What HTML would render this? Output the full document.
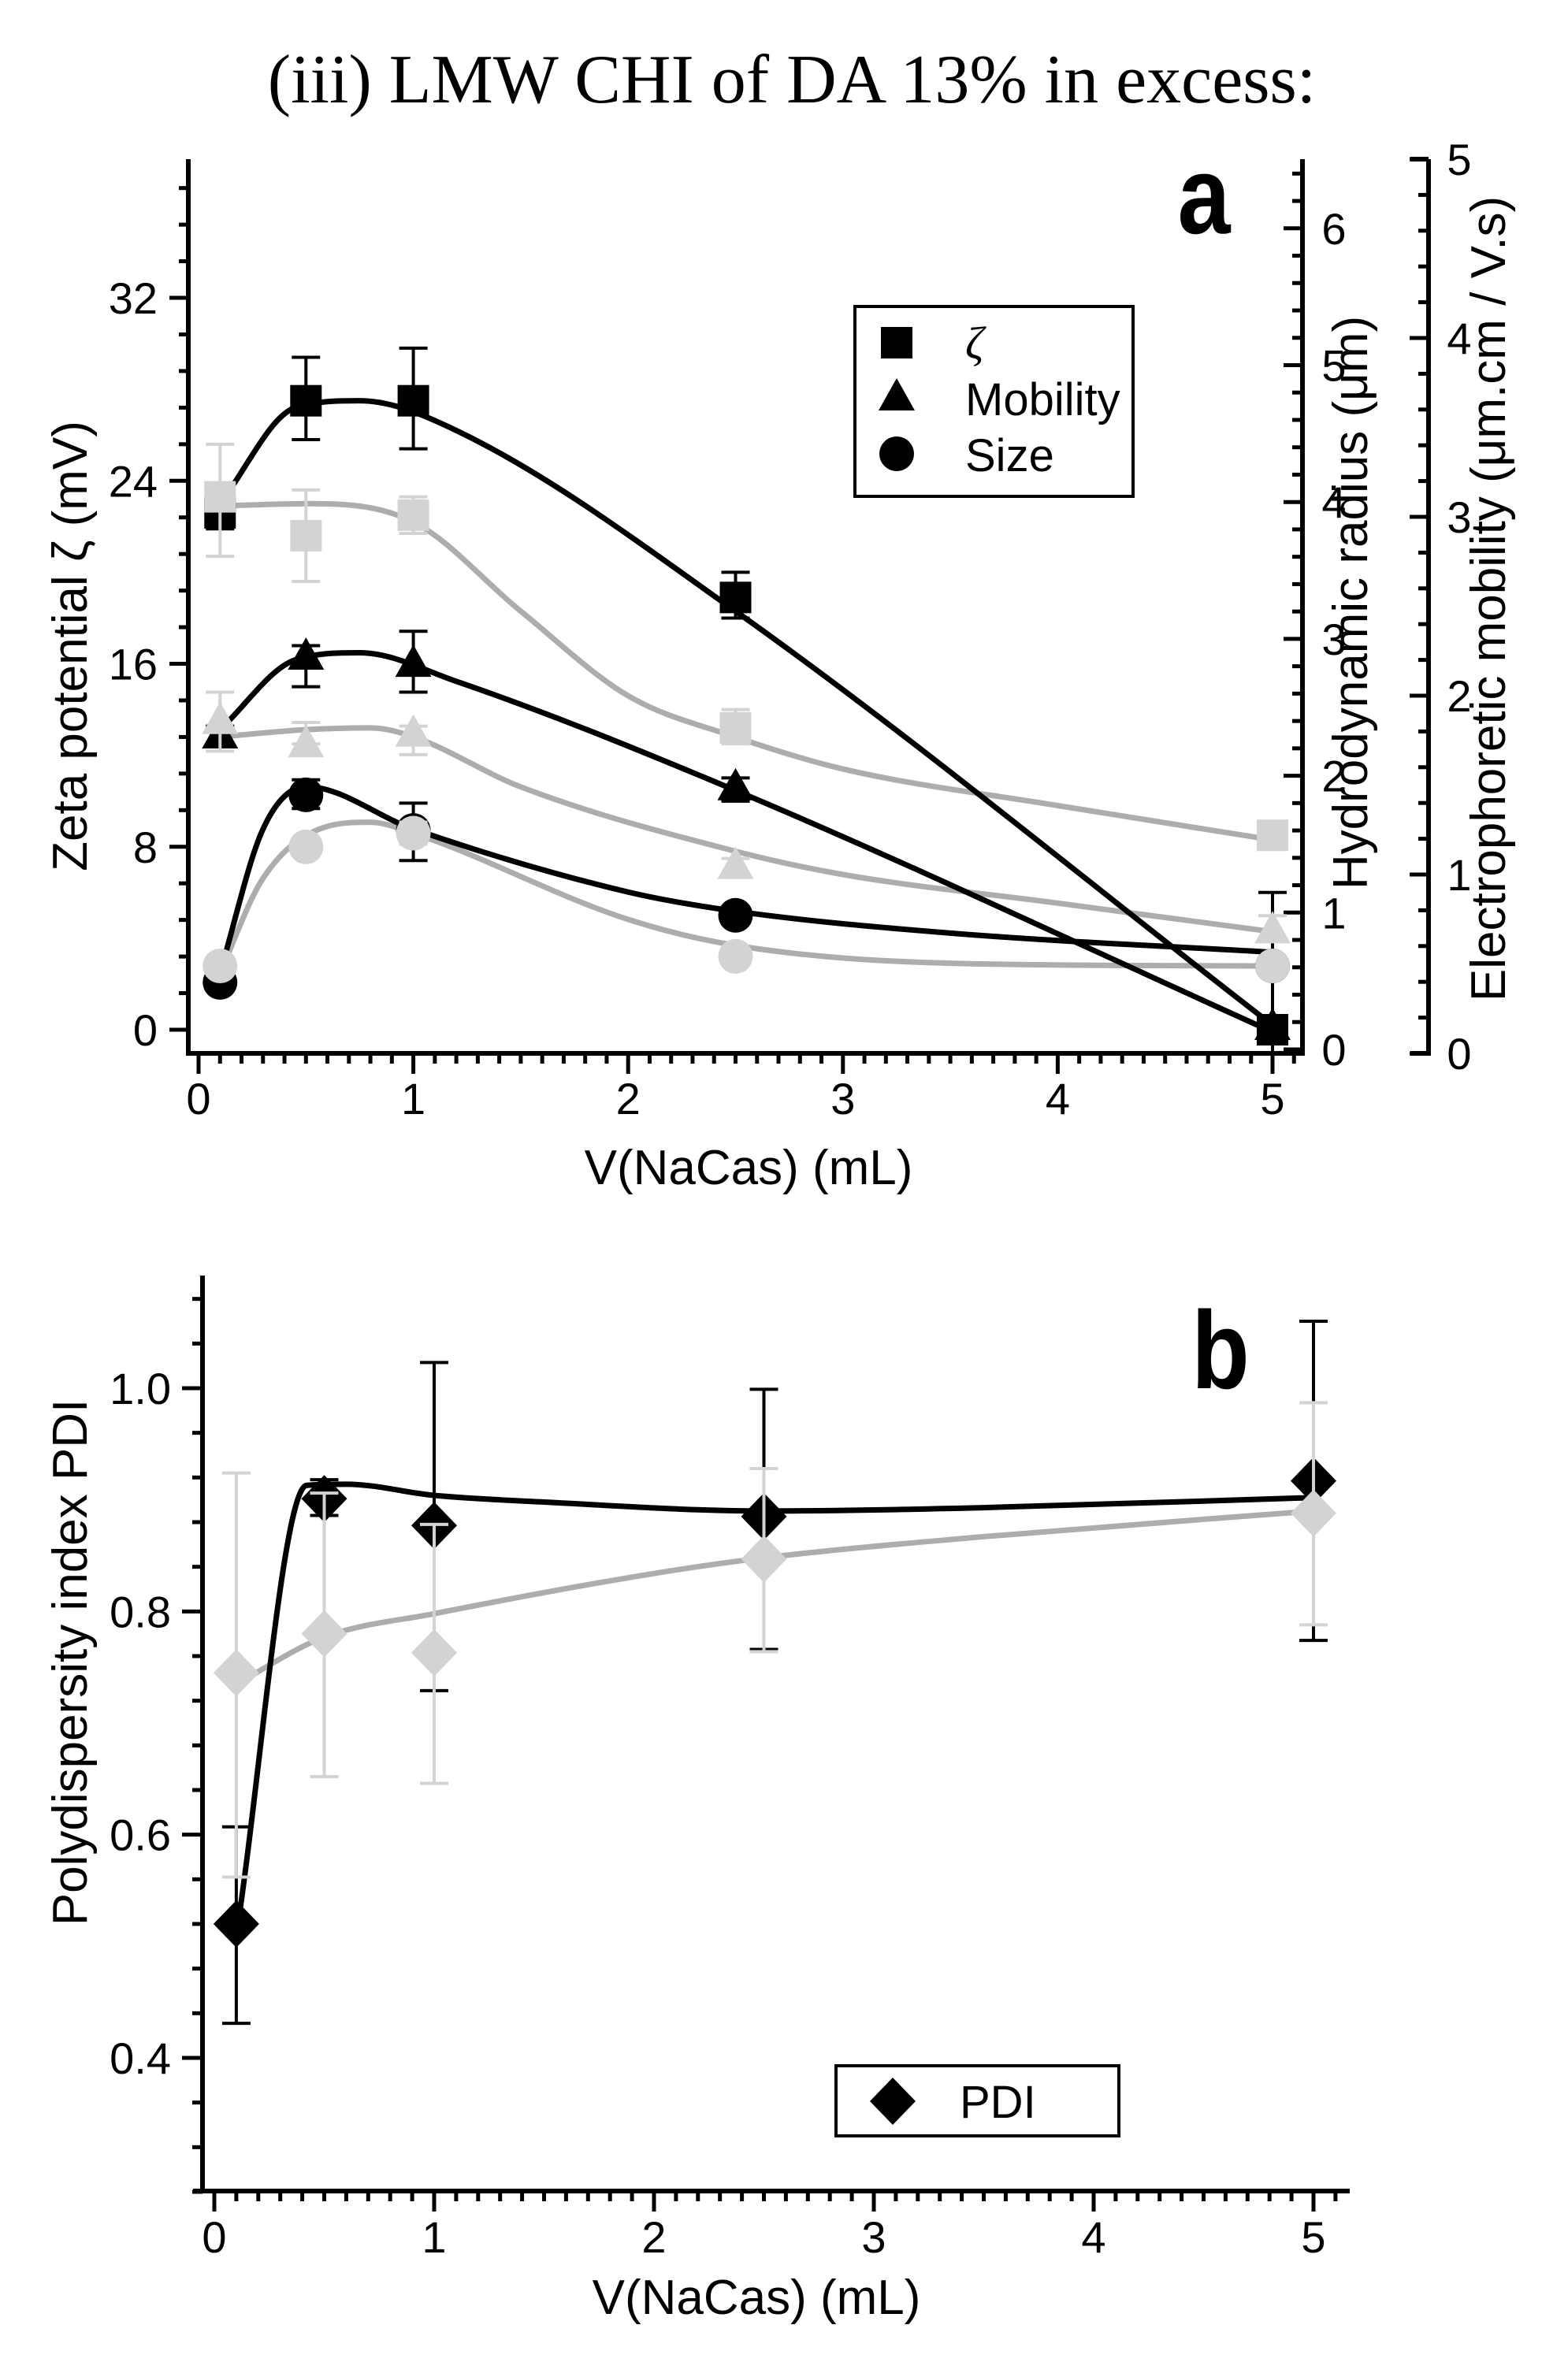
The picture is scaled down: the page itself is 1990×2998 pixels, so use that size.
<!DOCTYPE html>
<html><head><meta charset="utf-8">
<style>
html,body{margin:0;padding:0;background:#fff;}
svg{display:block;font-family:"Liberation Sans",Arial,sans-serif;}
</style></head>
<body>
<svg id="fig" xmlns="http://www.w3.org/2000/svg" width="1990" height="2998" viewBox="0 0 1990 2998">
<text x="1005" y="130" text-anchor="middle" font-family="Liberation Serif, serif" font-size="88">(iii) LMW CHI of DA 13% in excess:</text>
<g id="top"></g>
<g id="bot"></g>
</svg>
<script>
// ---------- Chart a data ----------
const xCats = [0.1, 0.5, 1, 2.5, 5];
const zetaBlack = [22.6, 27.5, 27.5, 18.9, 0];
const zetaBlackLo = [21.9, 25.8, 25.4, 18.0, -0.5];
const zetaBlackHi = [23.5, 29.4, 29.8, 20.0, 0.5];
const zetaGray = [23.3, 21.6, 22.5, 13.2, 8.5];
const zetaGrayLo = [20.7, 19.6, 21.7, 12.5, 8.2];
const zetaGrayHi = [25.6, 23.6, 23.3, 14.0, 8.8];
const zetaBlackFitX = [0.1, 0.45, 0.75, 1.2, 2.5, 5];
const zetaBlackFitY = [23, 27.2, 27.5, 26.2, 18.3, 0.2];
const zetaGrayFitX = [0.1, 0.5, 1, 1.5, 2, 2.5, 3, 4, 5];
const zetaGrayFitY = [22.9, 23.0, 22.2, 18.3, 14.6, 12.8, 11.4, 9.8, 8.3];

const mobBlack = [1.78, 2.22, 2.18, 1.49, 0.15];
const mobBlackLo = [1.73, 2.05, 2.02, 1.41, 0.0];
const mobBlackHi = [1.83, 2.28, 2.36, 1.54, 0.90];
const mobGray = [1.86, 1.73, 1.79, 1.05, 0.69];
const mobGrayLo = [1.69, 1.73, 1.67, 1.00, 0.64];
const mobGrayHi = [2.02, 1.85, 1.83, 1.09, 0.77];
const mobBlackFitX = [0.1, 0.45, 0.75, 1.2, 2.5, 5];
const mobBlackFitY = [1.81, 2.2, 2.24, 2.08, 1.47, 0.12];
const mobGrayFitX = [0.1, 0.5, 0.8, 1, 1.5, 2.5, 3, 4, 5];
const mobGrayFitY = [1.77, 1.81, 1.82, 1.77, 1.49, 1.13, 1.00, 0.84, 0.68];

const sizeBlack = [0.49, 1.86, 1.60, 0.98, 0.61];
const sizeBlackLo = [0.47, 1.76, 1.38, 0.95, 0.58];
const sizeBlackHi = [0.51, 1.97, 1.80, 1.01, 0.64];
const sizeGray = [0.61, 1.48, 1.58, 0.68, 0.61];
const sizeGrayLo = [0.59, 1.45, 1.50, 0.66, 0.59];
const sizeGrayHi = [0.63, 1.51, 1.66, 0.70, 0.63];
const sizeBlackFitX = [0.1, 0.3, 0.5, 1, 2, 2.5, 3.5, 5];
const sizeBlackFitY = [0.56, 1.61, 1.92, 1.61, 1.15, 1.01, 0.85, 0.71];
const sizeGrayFitX = [0.1, 0.3, 0.6, 0.8, 1, 2, 2.5, 3.5, 5];
const sizeGrayFitY = [0.56, 1.25, 1.63, 1.66, 1.58, 0.95, 0.76, 0.63, 0.61];

const xTicksA = [0, 1, 2, 3, 4, 5];
const zetaTicks = [0, 8, 16, 24, 32];
const hydroTicks = [0, 1, 2, 3, 4, 5, 6];
const electroTicks = [0, 1, 2, 3, 4, 5];

// ---------- Chart b data ----------
const pdiBlack = [0.52, 0.901, 0.877, 0.885, 0.917];
const pdiBlackLo = [0.431, 0.886, 0.729, 0.766, 0.774];
const pdiBlackHi = [0.607, 0.918, 1.023, 0.999, 1.06];
const pdiGray = [0.745, 0.780, 0.763, 0.847, 0.888];
const pdiGrayLo = [0.562, 0.652, 0.646, 0.764, 0.788];
const pdiGrayHi = [0.924, 0.906, 0.878, 0.928, 0.987];
const pdiBlackFitX = [0.1, 0.42, 0.6, 1, 1.5, 2.5, 3.5, 5];
const pdiBlackFitY = [0.51, 0.913, 0.914, 0.904, 0.898, 0.890, 0.893, 0.902];
const pdiGrayFitX = [0.1, 0.5, 1, 2, 2.5, 3.5, 5];
const pdiGrayFitY = [0.735, 0.777, 0.798, 0.834, 0.848, 0.867, 0.890];
const xTicksB = [0, 1, 2, 3, 4, 5];
const pdiTicks = [0.4, 0.6, 0.8, 1.0];

const NS = "http://www.w3.org/2000/svg";
const BLACK = "#000", GRAYM = "#d3d3d3", GRAYL = "#b0acac";
function mk(parent, tag, attrs) {
  const e = document.createElementNS(NS, tag);
  for (const k in attrs) e.setAttribute(k, attrs[k]);
  parent.appendChild(e);
  return e;
}
function line(p, x1, y1, x2, y2, c, w, name) {
  const e = mk(p, "line", {x1, y1, x2, y2, stroke: c, "stroke-width": w});
  
  
  return e;
}
function text(p, x, y, s, size, anchor, name, extra) {
  const e = mk(p, "text", {x, y, "font-size": size, "text-anchor": anchor || "middle"});
  if (extra) for (const k in extra) e.setAttribute(k, extra[k]);
  e.textContent = s;
  
  
  return e;
}
// monotone cubic (Fritsch-Carlson) path in pixel space
function monoPath(pts) {
  const n = pts.length, dx = [], m = [], t = new Array(n);
  for (let i = 0; i < n - 1; i++) { dx.push(pts[i + 1][0] - pts[i][0]); m.push((pts[i + 1][1] - pts[i][1]) / dx[i]); }
  t[0] = m[0]; t[n - 1] = m[n - 2];
  for (let i = 1; i < n - 1; i++) t[i] = (m[i - 1] * m[i] <= 0) ? 0 : (m[i - 1] + m[i]) / 2;
  for (let i = 0; i < n - 1; i++) {
    if (m[i] === 0) { t[i] = 0; t[i + 1] = 0; continue; }
    const a = t[i] / m[i], b = t[i + 1] / m[i], s = a * a + b * b;
    if (s > 9) { const k = 3 / Math.sqrt(s); t[i] = k * a * m[i]; t[i + 1] = k * b * m[i]; }
  }
  let d = "M" + pts[0][0] + "," + pts[0][1];
  for (let i = 0; i < n - 1; i++) {
    const h = dx[i];
    d += " C" + (pts[i][0] + h / 3) + "," + (pts[i][1] + t[i] * h / 3) + " " +
      (pts[i + 1][0] - h / 3) + "," + (pts[i + 1][1] - t[i + 1] * h / 3) + " " + pts[i + 1][0] + "," + pts[i + 1][1];
  }
  return d;
}
function curve(p, xs, ys, sx, sy, c, name) {
  const pts = xs.map((x, i) => [sx(x), sy(ys[i])]);
  const e = mk(p, "path", {d: monoPath(pts), fill: "none", stroke: c, "stroke-width": 7, "stroke-linejoin": "round"});
  
  
}
function errbar(p, x, lo, hi, c, name) {
  const g = mk(p, "g", {});
  
  
  line(g, x, lo, x, hi, c, 4, name + '-stem');
  line(g, x - 18, lo, x + 18, lo, c, 4, name + '-cap-low');
  line(g, x - 18, hi, x + 18, hi, c, 4, name + '-cap-high');
}
function marker(p, shape, x, y, c, name) {
  let e;
  if (shape === "sq") e = mk(p, "rect", {x: x - 20, y: y - 20, width: 40, height: 40, fill: c});
  else if (shape === "tri") e = mk(p, "polygon", {points: `${x},${y - 24} ${x + 23},${y + 17} ${x - 23},${y + 17}`, fill: c});
  else if (shape === "circ") e = mk(p, "circle", {cx: x, cy: y, r: 22, fill: c});
  else e = mk(p, "polygon", {points: `${x},${y - 30} ${x + 29},${y} ${x},${y + 30} ${x - 29},${y}`, fill: c});
  
  
}
const TICKFS = 56, TITLEFS = 62;

// ---------- Chart a ----------
(function () {
  const g = document.getElementById("top");
  const L = 239, R = 1653, T = 202, B = 1337;
  const sx = v => 252 + v * 272.6;
  const sz = v => 1307 - v * 29.03;      // zeta
  const sh = v => 1332 - v * 173.7;      // hydrodynamic radius
  const se = v => 1337 - v * 227;        // mobility
  line(g, L, T, L, B + 3, BLACK, 6, "zeta-axis-line");
  line(g, L - 3, B, R + 3, B, BLACK, 6, "x-axis-line");
  line(g, R, T, R, B + 3, BLACK, 6, "hydro-axis-line");
  line(g, 1813, T, 1813, B + 3, BLACK, 6, "mobility-axis-line");
  line(g, 1790, T, 1813, T, BLACK, 6, "mobility-axis-cap");
  line(g, 1790, B, 1813, B, BLACK, 6, "mobility-axis-cap-bottom");
  for (let i = 0; i <= 51; i++) {
    const v = i * 0.1, x = sx(v); if (x > R) break;
    const maj = i % 10 === 0;
    line(g, x, B, x, B + (maj ? 26 : 13), BLACK, 5, maj ? "x-major-tick" : "x-minor-tick");
  }
  xTicksA.forEach(v => text(g, sx(v), 1414, String(v), TICKFS, "middle", "x-tick-label"));
  for (let i = 0; i <= 23; i++) {
    const v = i * 1.6, y = sz(v); if (y < T) break;
    const maj = i % 5 === 0;
    line(g, L - (maj ? 24 : 12), y, L, y, BLACK, 5, maj ? "zeta-major-tick" : "zeta-minor-tick");
  }
  zetaTicks.forEach(v => text(g, 200, sz(v) + 20, String(v), TICKFS, "end", "zeta-tick-label"));
  for (let i = 0; i <= 32; i++) {
    const v = i * 0.2, y = sh(v); if (y < T) break;
    const maj = i % 5 === 0;
    line(g, R - (maj ? 24 : 13), y, R, y, BLACK, 5, maj ? "hydro-major-tick" : "hydro-minor-tick");
  }
  hydroTicks.forEach(v => text(g, 1693, sh(v) + 20, String(v), TICKFS, "middle", "hydro-tick-label"));
  for (let i = 0; i <= 25; i++) {
    const v = i * 0.2, y = se(v);
    const maj = i % 5 === 0;
    line(g, 1813 - (maj ? 24 : 13), y, 1813, y, BLACK, 5, maj ? "mobility-major-tick" : "mobility-minor-tick");
  }
  electroTicks.forEach(v => text(g, 1852, se(v) + 20, String(v), TICKFS, "middle", "mobility-tick-label"));
  text(g, 950, 1503, "V(NaCas) (mL)", TITLEFS, "middle", "x-axis-title");
  text(g, 0, 0, "Zeta potential ζ (mV)", TITLEFS, "middle", "zeta-axis-title", {transform: "translate(110,820) rotate(-90)"});
  text(g, 0, 0, "Hydrodynamic radius (μm)", TITLEFS, "middle", "hydro-axis-title", {transform: "translate(1735,765) rotate(-90)"});
  text(g, 0, 0, "Electrophoretic mobility (μm.cm / V.s)", TITLEFS, "middle", "mobility-axis-title", {transform: "translate(1910,760) rotate(-90)"});
  text(g, 1528, 296, "a", 140, "middle", "panel-label-a", {"font-weight": "bold", transform: "translate(1528,0) scale(0.86,1) translate(-1528,0)"});
  curve(g, zetaGrayFitX, zetaGrayFitY, sx, sz, GRAYL, "zeta-gray-fit");
  curve(g, mobGrayFitX, mobGrayFitY, sx, se, GRAYL, "mobility-gray-fit");
  curve(g, sizeGrayFitX, sizeGrayFitY, sx, sh, GRAYL, "size-gray-fit");
  curve(g, zetaBlackFitX, zetaBlackFitY, sx, sz, BLACK, "zeta-black-fit");
  curve(g, mobBlackFitX, mobBlackFitY, sx, se, BLACK, "mobility-black-fit");
  curve(g, sizeBlackFitX, sizeBlackFitY, sx, sh, BLACK, "size-black-fit");
  xCats.forEach((x, i) => {
    errbar(g, sx(x), sz(zetaBlackLo[i]), sz(zetaBlackHi[i]), BLACK, "zeta-black-error");
    errbar(g, sx(x), se(mobBlackLo[i]), se(mobBlackHi[i]), BLACK, "mobility-black-error");
    errbar(g, sx(x), sh(sizeBlackLo[i]), sh(sizeBlackHi[i]), BLACK, "size-black-error");
    marker(g, "sq", sx(x), sz(zetaBlack[i]), BLACK, "zeta-black-point");
    marker(g, "tri", sx(x), se(mobBlack[i]), BLACK, "mobility-black-point");
    marker(g, "circ", sx(x), sh(sizeBlack[i]), BLACK, "size-black-point");
  });
  xCats.forEach((x, i) => {
    errbar(g, sx(x), sz(zetaGrayLo[i]), sz(zetaGrayHi[i]), GRAYM, "zeta-gray-error");
    errbar(g, sx(x), se(mobGrayLo[i]), se(mobGrayHi[i]), GRAYM, "mobility-gray-error");
    errbar(g, sx(x), sh(sizeGrayLo[i]), sh(sizeGrayHi[i]), GRAYM, "size-gray-error");
    marker(g, "sq", sx(x), sz(zetaGray[i]), GRAYM, "zeta-gray-point");
    marker(g, "tri", sx(x), se(mobGray[i]), GRAYM, "mobility-gray-point");
    marker(g, "circ", sx(x), sh(sizeGray[i]), GRAYM, "size-gray-point");
  });
  const lg = mk(g, "g", {});
  
  
  const lb = mk(lg, "rect", {x: 1085, y: 389, width: 353, height: 241, fill: "#fff", stroke: BLACK, "stroke-width": 4});
  
  
  marker(lg, "sq", 1138, 435, BLACK, "legend-zeta-marker");
  text(lg, 1225, 455, "ζ", 58, "start", "legend-zeta-label", {"font-family": "Liberation Serif, serif", "font-style": "italic"});
  marker(lg, "tri", 1138, 504, BLACK, "legend-mobility-marker");
  text(lg, 1225, 527, "Mobility", 58, "start", "legend-mobility-label");
  marker(lg, "circ", 1138, 576, BLACK, "legend-size-marker");
  text(lg, 1225, 598, "Size", 58, "start", "legend-size-label");
})();

// ---------- Chart b ----------
(function () {
  const g = document.getElementById("bot");
  const L = 257, R = 1713, T = 1619, B = 2781;
  const sx = v => 272 + v * 279;
  const sy = v => 2612 - (v - 0.4) * 1416.7;
  line(g, L, T, L, B + 3, BLACK, 6, "pdi-axis-line");
  line(g, L - 12, B, R, B, BLACK, 6, "x-axis-line-b");
  for (let i = 0; i <= 51; i++) {
    const v = i * 0.1, x = sx(v); if (x > R) break;
    const maj = i % 10 === 0;
    line(g, x, B, x, B + (maj ? 26 : 13), BLACK, 5, maj ? "x-major-tick-b" : "x-minor-tick-b");
  }
  xTicksB.forEach(v => text(g, sx(v), 2859, String(v), TICKFS, "middle", "x-tick-label-b"));
  for (let i = 0; i <= 30; i++) {
    const v = 0.28 + i * 0.04, y = sy(v); if (y < T) break;
    const maj = Math.abs(((v - 0.4) / 0.2) - Math.round((v - 0.4) / 0.2)) < 1e-6;
    line(g, L - (maj ? 26 : 13), y, L, y, BLACK, 5, maj ? "pdi-major-tick" : "pdi-minor-tick");
  }
  pdiTicks.forEach(v => text(g, 217, sy(v) + 20, v.toFixed(1), TICKFS, "end", "pdi-tick-label"));
  text(g, 960, 2937, "V(NaCas) (mL)", TITLEFS, "middle", "x-axis-title-b");
  text(g, 0, 0, "Polydispersity index PDI", TITLEFS, "middle", "pdi-axis-title", {transform: "translate(110,2110) rotate(-90)"});
  text(g, 1549, 1762, "b", 140, "middle", "panel-label-b", {"font-weight": "bold", transform: "translate(1549,0) scale(0.86,1) translate(-1549,0)"});
  curve(g, pdiGrayFitX, pdiGrayFitY, sx, sy, GRAYL, "pdi-gray-fit");
  curve(g, pdiBlackFitX, pdiBlackFitY, sx, sy, BLACK, "pdi-black-fit");
  xCats.forEach((x, i) => {
    errbar(g, sx(x), sy(pdiBlackLo[i]), sy(pdiBlackHi[i]), BLACK, "pdi-black-error");
    marker(g, "dia", sx(x), sy(pdiBlack[i]), BLACK, "pdi-black-point");
  });
  xCats.forEach((x, i) => {
    errbar(g, sx(x), sy(pdiGrayLo[i]), sy(pdiGrayHi[i]), GRAYM, "pdi-gray-error");
    marker(g, "dia", sx(x), sy(pdiGray[i]), GRAYM, "pdi-gray-point");
  });
  const lg = mk(g, "g", {});
  
  
  const lb = mk(lg, "rect", {x: 1061, y: 2622, width: 359, height: 89, fill: "#fff", stroke: BLACK, "stroke-width": 4});
  
  
  marker(lg, "dia", 1133, 2667, BLACK, "legend-pdi-marker");
  text(lg, 1218, 2688, "PDI", 58, "start", "legend-pdi-label");
})();
</script>
</body></html>
